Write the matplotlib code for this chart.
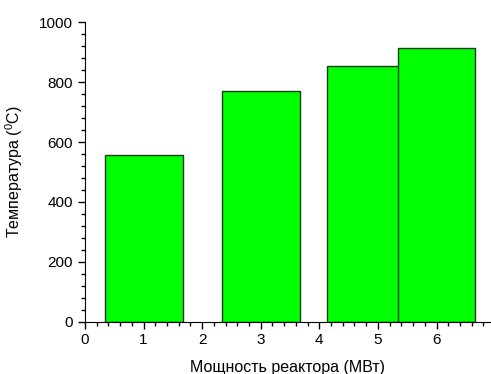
# Температура в зависимости от мощности реактора
import numpy as np
import matplotlib.pyplot as plt
from matplotlib.ticker import MultipleLocator

plt.rcParams['font.family'] = ['Liberation Sans', 'DejaVu Sans']
plt.rcParams['mathtext.fontset'] = 'custom'
plt.rcParams['mathtext.rm'] = 'Liberation Sans'
plt.rcParams['mathtext.it'] = 'Liberation Sans'

# Данные
moshchnost = [1, 3, 4.8, 6]
temperatura = [556, 771, 854, 913]

fig = plt.figure(figsize=(4.91, 3.74), dpi=100)
ax = fig.add_axes([0.173, 0.14, 0.827, 0.8005])

ax.bar(moshchnost, temperatura, width=1.33, color='#00ff00',
       edgecolor='#1a3a1a', linewidth=1.0)

ax.set_xlim(0, 6.93)
ax.set_ylim(0, 1000)

ax.xaxis.set_major_locator(MultipleLocator(1))
ax.xaxis.set_minor_locator(MultipleLocator(0.2))
ax.yaxis.set_major_locator(MultipleLocator(200))
ax.yaxis.set_minor_locator(MultipleLocator(40))

ax.spines['top'].set_visible(False)
ax.spines['right'].set_visible(False)
ax.tick_params(which='major', direction='out', length=5, width=1, labelsize=11)
ax.tick_params(which='minor', direction='out', length=3, width=1)

ax.set_xlabel('Мощность реактора (МВт)', fontsize=11.5, labelpad=9)
ax.set_ylabel(r'Температура ($^0$C)', fontsize=11.5, labelpad=10)

plt.savefig('out.png', dpi=100)
